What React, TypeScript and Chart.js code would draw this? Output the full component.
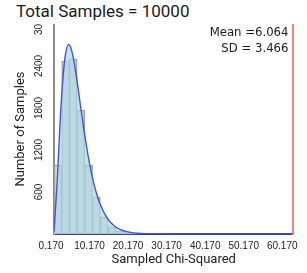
import React, { useEffect, useRef } from "react";
import { Chart, registerables } from "chart.js";

Chart.register(...registerables);

// Histogram of sampled chi-squared values (bin width 2, first bin starts at the sample minimum)
const totalSamples = 10000;
const binStarts = [0.17, 2.17, 4.17, 6.17, 8.17, 10.17, 12.17, 14.17, 16.17, 18.17, 20.17, 22.17, 24.17, 26.17, 28.17];
const binCounts = [986, 2471, 2500, 1771, 986, 529, 243, 100, 43, 20, 10, 5, 3, 1, 1];
const binWidth = 2;

// Fitted density curve, scaled to counts per bin
const curveX = [0.17, 1, 2, 3, 4, 5, 6, 7, 8, 9, 10, 11, 12, 14, 16, 18, 20, 24, 28, 32, 40, 50, 62.3];
const curveY = [33, 758, 1839, 2510, 2707, 2565, 2240, 1850, 1465, 1125, 842, 618, 446, 223, 107, 50, 23, 4, 1, 0, 0, 0, 0];

// Summary statistics
const meanValue = 6.064;
const sdValue = 3.466;

// Axis ticks
const xTickValues = [0.17, 10.17, 20.17, 30.17, 40.17, 50.17, 60.17];
const yTickValues = [600, 1200, 1800, 2400, 3000];
const xMin = 0.17;
const xMax = 62.3;
const yMax = 3000;

const tickFont = "'Liberation Sans Narrow', 'Liberation Sans', Arial, sans-serif";

const overlayText = {
  id: "overlayText",
  afterDraw(chart: any) {
    const { ctx, scales, chartArea } = chart;
    const y = scales.y;
    ctx.save();
    // rotated y tick labels
    ctx.fillStyle = "#222";
    ctx.font = `10px ${tickFont}`;
    ctx.textAlign = "center";
    ctx.textBaseline = "middle";
    for (const v of yTickValues) {
      const py = y.getPixelForValue(v);
      ctx.save();
      ctx.translate(chartArea.left - 15, py);
      ctx.rotate(-Math.PI / 2);
      ctx.fillText(String(v), 0, 0);
      ctx.restore();
    }
    // summary statistics
    ctx.font = "11.7px 'DejaVu Sans', Verdana, sans-serif";
    ctx.textAlign = "right";
    ctx.textBaseline = "alphabetic";
    ctx.fillStyle = "#1a1a1a";
    ctx.fillText(`Mean =${meanValue.toFixed(3)}`, chartArea.right - 5, chartArea.top + 11.7);
    ctx.fillText(`SD = ${sdValue.toFixed(3)}`, chartArea.right - 5, chartArea.top + 27.7);
    ctx.restore();
  },
};

export default function App() {
  const canvasRef = useRef<HTMLCanvasElement>(null);

  useEffect(() => {
    const canvas = canvasRef.current;
    if (!canvas) return;
    const chart = new Chart(canvas, {
      type: "bar",
      data: {
        datasets: [
          {
            type: "line",
            label: "density",
            data: curveX.map((x, i) => ({ x, y: curveY[i] })),
            borderColor: "#3f51f0",
            borderWidth: 1.4,
            backgroundColor: "rgba(173, 216, 230, 0.7)",
            fill: "origin",
            pointRadius: 0,
            cubicInterpolationMode: "monotone",
          } as any,
          {
            type: "bar",
            label: "samples",
            data: binStarts.map((s, i) => ({ x: s + binWidth / 2, y: binCounts[i] })),
            backgroundColor: "rgba(195, 195, 195, 0.6)",
            borderColor: "#9a9a9a",
            borderWidth: 1,
            barPercentage: 1,
            categoryPercentage: 1,
            grouped: false,
          } as any,
        ],
      },
      options: {
        animation: false,
        responsive: true,
        maintainAspectRatio: false,
        layout: { padding: { left: 0, right: 13, top: 0, bottom: 0 } },
        plugins: {
          legend: { display: false },
          tooltip: { enabled: false },
          title: { display: false },
        },
        scales: {
          x: {
            type: "linear",
            min: xMin,
            max: xMax,
            offset: false,
            grid: { display: false, drawTicks: false },
            border: { display: true, color: "#3d4070", width: 2 },
            afterBuildTicks: (s: any) => {
              s.ticks = xTickValues.map((value) => ({ value }));
            },
            afterFit: (s: any) => {
              s.height = 39;
            },
            ticks: {
              autoSkip: false,
              maxRotation: 0,
              minRotation: 0,
              padding: 6,
              labelOffset: -3,
              color: "#222",
              font: { family: tickFont, size: 10 },
              callback: (v: any) => Number(v).toFixed(3),
            },
            title: {
              display: true,
              text: "Sampled Chi-Squared",
              color: "#222",
              font: { family: "Roboto", size: 13 },
              padding: { top: 0, bottom: 5 },
            },
          },
          y: {
            type: "linear",
            min: 0,
            max: yMax,
            grid: { display: false, drawTicks: false },
            border: { display: true, color: "#8a8a8a", width: 2 },
            afterBuildTicks: (s: any) => {
              s.ticks = yTickValues.map((value) => ({ value }));
            },
            afterFit: (s: any) => {
              s.width = 54;
            },
            ticks: { display: false },
            title: {
              display: true,
              text: "Number of Samples",
              color: "#222",
              font: { family: "Roboto", size: 13 },
              padding: { top: 13, bottom: 0 },
            },
          },
          y2: {
            type: "linear",
            position: "right",
            display: true,
            min: 0,
            max: yMax,
            grid: { display: false, drawTicks: false },
            border: { display: true, color: "#ee8585", width: 2 },
            ticks: { display: false },
            afterFit: (s: any) => {
              s.width = 0;
            },
          },
        },
      } as any,
      plugins: [overlayText],
    });
    return () => chart.destroy();
  }, []);

  return (
    <div
      style={{
        position: "absolute",
        left: 0,
        top: 0,
        width: 307,
        height: 273,
        background: "#fff",
        overflow: "hidden",
      }}
    >
      <div
        style={{
          position: "absolute",
          left: 16,
          top: 1,
          font: "17px Roboto",
          lineHeight: "20px",
          color: "#1a1a1a",
          whiteSpace: "nowrap",
        }}
      >
        Total Samples = {totalSamples}
      </div>
      <div style={{ position: "absolute", left: 0, top: 24, width: 307, height: 249 }}>
        <canvas ref={canvasRef} />
      </div>
    </div>
  );
}
